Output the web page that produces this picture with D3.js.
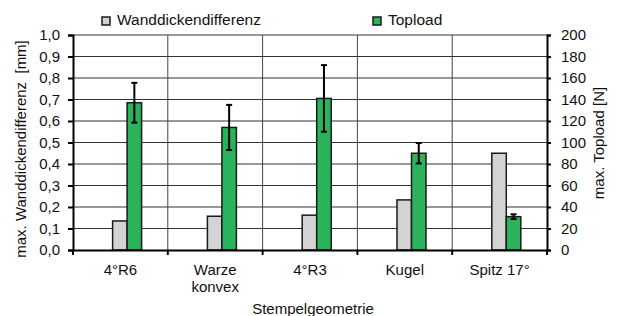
<!DOCTYPE html>
<html>
<head>
<meta charset="utf-8">
<script src="https://cdn.jsdelivr.net/npm/d3@7"></script>
<style>
  body { margin: 0; background: #fff; }
  text { font-family: "Liberation Sans", Arial, sans-serif; fill: #111; }
</style>
</head>
<body>
<script>
"use strict";

(function() {

// data
let categories = [['4°R6'], ['Warze', 'konvex'], ['4°R3'], ['Kugel'], ['Spitz 17°']];
let wanddicke = [0.135, 0.157, 0.162, 0.233, 0.45];
let topload = [137, 114, 141, 90, 31];
let toploadErr = [18.5, 21, 31, 9.5, 2.2];
let leftTicks = [0, 0.1, 0.2, 0.3, 0.4, 0.5, 0.6, 0.7, 0.8, 0.9, 1.0];
let rightTicks = [0, 20, 40, 60, 80, 100, 120, 140, 160, 180, 200];
let seriesNames = ['Wanddickendifferenz', 'Topload'];

let W = 617, H = 316;
let m = {top: 35, right: 70, bottom: 66, left: 73};
let width = W - m.left - m.right;
let height = H - m.top - m.bottom;

let svg = d3.select('body').append('svg')
    .attr('width', W)
    .attr('height', H);

let g = svg.append('g')
    .attr('transform', 'translate(' + m.left + ',' + m.top + ')');

let x0 = d3.scaleBand()
    .domain(d3.range(categories.length))
    .range([0, width]);

let x1 = d3.scaleBand()
    .domain(seriesNames)
    .range([0, 29]);

let yL = d3.scaleLinear().domain([0, 1]).range([height, 0]);
let yR = d3.scaleLinear().domain([0, 200]).range([height, 0]);

let fmt = function(d) { return d3.format('.1f')(d).replace('.', ','); };

// grid
g.append('g')
    .selectAll('line')
    .data(leftTicks.slice(1))
    .enter().append('line')
    .attr('x1', 0).attr('x2', width)
    .attr('y1', d => yL(d)).attr('y2', d => yL(d))
    .attr('stroke', '#333').attr('stroke-width', 1);

g.append('g')
    .selectAll('line')
    .data(d3.range(1, categories.length))
    .enter().append('line')
    .attr('x1', d => x0(d)).attr('x2', d => x0(d))
    .attr('y1', 0).attr('y2', height)
    .attr('stroke', '#444').attr('stroke-width', 1);

// bars
let groups = g.selectAll('.cat')
    .data(categories)
    .enter().append('g')
    .attr('class', 'cat')
    .attr('transform', (d, i) => 'translate(' + (x0(i) + x0.bandwidth() / 2 - 7.8) + ',0)');

groups.append('rect')
    .attr('x', x1('Wanddickendifferenz'))
    .attr('width', x1.bandwidth())
    .attr('y', (d, i) => yL(wanddicke[i]))
    .attr('height', (d, i) => height - yL(wanddicke[i]))
    .attr('fill', '#d2d3d2')
    .attr('stroke', '#1a1a1a').attr('stroke-width', 1.5);

groups.append('rect')
    .attr('x', x1('Topload'))
    .attr('width', x1.bandwidth())
    .attr('y', (d, i) => yR(topload[i]))
    .attr('height', (d, i) => height - yR(topload[i]))
    .attr('fill', '#2bb35b')
    .attr('stroke', '#1a1a1a').attr('stroke-width', 1.5);

// error bars
let cx = x1('Topload') + x1.bandwidth() / 2;
groups.append('line')
    .attr('x1', cx).attr('x2', cx)
    .attr('y1', (d, i) => yR(topload[i] + toploadErr[i]))
    .attr('y2', (d, i) => yR(topload[i] - toploadErr[i]))
    .attr('stroke', '#000').attr('stroke-width', 2);
[1, -1].forEach(function(s) {
    groups.append('line')
        .attr('x1', cx - 3).attr('x2', cx + 3)
        .attr('y1', (d, i) => yR(topload[i] + s * toploadErr[i]))
        .attr('y2', (d, i) => yR(topload[i] + s * toploadErr[i]))
        .attr('stroke', '#000').attr('stroke-width', 2);
});

// axes
let axL = g.append('g')
    .call(d3.axisLeft(yL).tickValues(leftTicks).tickFormat(fmt).tickSize(5).tickPadding(8));
let axR = g.append('g')
    .attr('transform', 'translate(' + width + ',0)')
    .call(d3.axisRight(yR).tickValues(rightTicks).tickSize(4).tickPadding(10));
let axB = g.append('g')
    .attr('transform', 'translate(0,' + height + ')')
    .call(d3.axisBottom(x0).tickValues([]).tickSizeOuter(0));

[axL, axR].forEach(function(ax) {
    ax.select('.domain').attr('stroke', '#000').attr('stroke-width', 2);
    ax.selectAll('.tick line').attr('stroke', '#000').attr('stroke-width', 2);
    ax.selectAll('text').style('font-size', '15px')
        .style('font-family', '"Liberation Sans", Arial, sans-serif').attr('fill', '#111');
});
axB.select('.domain').attr('stroke', '#000').attr('stroke-width', 2);

// bottom boundary ticks
axB.selectAll('.bt')
    .data(d3.range(0, categories.length + 1))
    .enter().append('line')
    .attr('x1', d => d < categories.length ? x0(d) : width)
    .attr('x2', d => d < categories.length ? x0(d) : width)
    .attr('y1', 0).attr('y2', 5)
    .attr('stroke', '#000').attr('stroke-width', 2);

// category labels
let lbl = g.selectAll('.lbl')
    .data(categories)
    .enter().append('text')
    .attr('class', 'lbl')
    .attr('text-anchor', 'middle')
    .style('font-size', '15px')
    .attr('transform', (d, i) => 'translate(' + (x0(i) + x0.bandwidth() / 2) + ',' + (height + 25) + ')');
lbl.selectAll('tspan')
    .data(d => d)
    .enter().append('tspan')
    .attr('x', 0)
    .attr('dy', (d, j) => j === 0 ? 0 : 17)
    .text(d => d);

// axis titles
svg.append('text')
    .attr('text-anchor', 'middle')
    .style('font-size', '15px')
    .style('white-space', 'pre')
    .attr('transform', 'translate(26,149) rotate(-90)')
    .text('max. Wanddickendifferenz  [mm]');

svg.append('text')
    .attr('text-anchor', 'middle')
    .style('font-size', '15px')
    .attr('transform', 'translate(604,143) rotate(-90)')
    .text('max. Topload [N]');

svg.append('text')
    .attr('text-anchor', 'middle')
    .style('font-size', '15px')
    .attr('x', 313).attr('y', 314)
    .text('Stempelgeometrie');

// legend
let legendX = [102, 373];
let legendColors = ['#d2d3d2', '#2bb35b'];
let leg = svg.selectAll('.leg')
    .data(seriesNames)
    .enter().append('g')
    .attr('class', 'leg')
    .attr('transform', (d, i) => 'translate(' + legendX[i] + ',17)');
leg.append('rect')
    .attr('width', 8).attr('height', 8)
    .attr('fill', (d, i) => legendColors[i])
    .attr('stroke', '#1a1a1a').attr('stroke-width', 1.5);
leg.append('text')
    .attr('x', 15).attr('y', 8)
    .style('font-size', '15.5px')
    .text(d => d);

})();
</script>
</body>
</html>
